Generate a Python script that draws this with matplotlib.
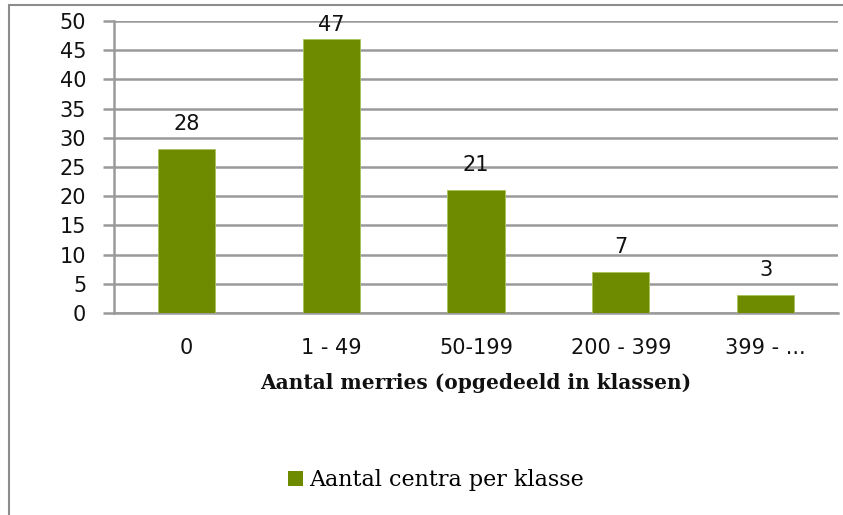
import matplotlib
matplotlib.use("Agg")
import matplotlib.pyplot as plt
from matplotlib.patches import Rectangle, Patch

categories = ["0", "1 - 49", "50-199", "200 - 399", "399 - ..."]
values = [28, 47, 21, 7, 3]
yticks = [0, 5, 10, 15, 20, 25, 30, 35, 40, 45, 50]
xlabel = "Aantal merries (opgedeeld in klassen)"
legend_label = "Aantal centra per klasse"

W, H = 843, 515
fig = plt.figure(figsize=(W / 100, H / 100), dpi=100)
fig.patch.set_facecolor("white")

# outer chart border (partially cropped in reference)
fig.patches.append(Rectangle((9 / W, -0.05), 1.2, 1 - 5 / H + 0.05, transform=fig.transFigure,
                             fill=False, edgecolor="#8c8c8c", linewidth=1.5, zorder=0))

ax = fig.add_axes([114 / W, 1 - 313 / H, (838 - 114) / W, (313 - 21) / H])
green = "#6E8B00"
x = list(range(len(categories)))
bars = ax.bar(x, values, width=0.395, color=green, edgecolor="#a9c25a", linewidth=0.6, zorder=3)
ax.set_xlim(-0.5, len(categories) - 0.5)
ax.set_ylim(0, 50)
ax.set_yticks(yticks)
ax.yaxis.grid(True, color="#9a9a9a", linewidth=1.8, zorder=0)
ax.set_axisbelow(True)
for s in ["top", "right"]:
    ax.spines[s].set_visible(False)
ax.spines["left"].set_color("#9a9a9a")
ax.spines["left"].set_linewidth(1.8)
ax.spines["bottom"].set_color("#9a9a9a")
ax.spines["bottom"].set_linewidth(1.8)
ax.tick_params(axis="y", length=8, width=1.8, color="#9a9a9a", labelsize=15, pad=12)
ax.tick_params(axis="x", length=0, labelsize=15, pad=18)
ax.set_xticks(x)
ax.set_xticklabels(categories)
for lab in ax.get_xticklabels() + ax.get_yticklabels():
    lab.set_family("DejaVu Sans")
    lab.set_color("#111111")

# data labels: ~25 px above bar top, but kept inside the chart (as Excel does)
for xi, v in zip(x, values):
    px, py = ax.transData.transform((xi, v))
    ly = min(py + 25, H - 25)
    fx, fy = fig.transFigure.inverted().transform((px, ly))
    fig.text(fx, fy, str(v), ha="center", va="center", fontsize=15,
             color="#111111", family="DejaVu Sans", zorder=5)

fig.text(476 / W, 1 - 383 / H, xlabel, ha="center", va="center", fontsize=14.5,
         fontweight="bold", family="DejaVu Serif", color="#111111")

fig.legend(handles=[Patch(facecolor=green, edgecolor="none")], labels=[legend_label],
           loc="center", bbox_to_anchor=(436 / W, 1 - 480 / H), frameon=False,
           prop={"family": "DejaVu Serif", "size": 16}, handlelength=0.65, handleheight=0.65,
           handletextpad=0.3)

fig.savefig("out.png", dpi=100, facecolor="white")
